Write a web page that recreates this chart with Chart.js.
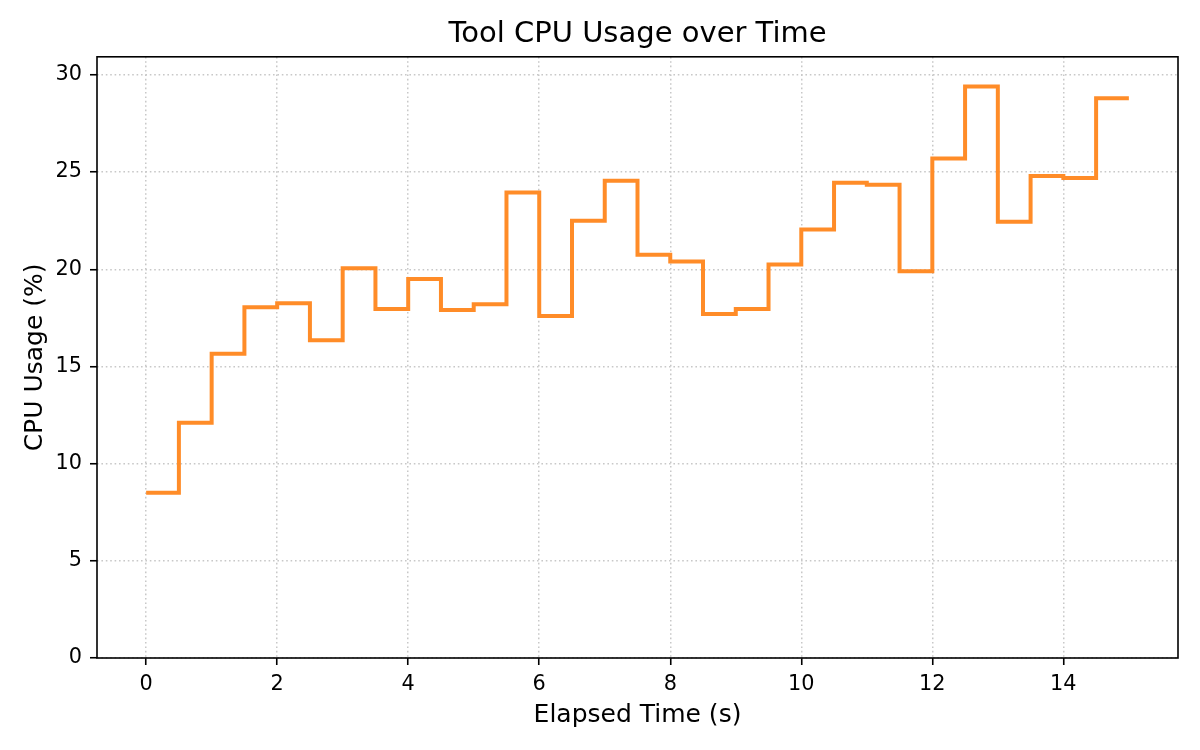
<!DOCTYPE html>
<html>
<head>
<meta charset="utf-8">
<script src="https://cdn.jsdelivr.net/npm/chart.js@4/dist/chart.umd.min.js"></script>
<style>
  html, body { margin: 0; padding: 0; background: #fff; }
  #wrap { width: 1200px; height: 750px; }
</style>
</head>
<body>
<div id="wrap"><canvas id="cpuChart" width="1200" height="750"></canvas></div>
<script>
// data
const times = [0, 0.5, 1, 1.5, 2, 2.5, 3, 3.5, 4, 4.5, 5, 5.5, 6, 6.5, 7, 7.5,
               8, 8.5, 9, 9.5, 10, 10.5, 11, 11.5, 12, 12.5, 13, 13.5, 14, 14.5, 15];
const cpuUsage = [8.5, 12.1, 15.65, 18.05, 18.25, 16.35, 20.05, 17.95, 19.5, 17.9, 18.2, 23.95,
                  17.6, 22.5, 24.55, 20.75, 20.4, 17.7, 17.95, 20.25, 22.05, 24.45, 24.35, 19.9,
                  25.7, 29.4, 22.45, 24.8, 24.7, 28.8, 28.8];
const xTicks = [0, 2, 4, 6, 8, 10, 12, 14];
const yTicks = [0, 5, 10, 15, 20, 25, 30];

const FONT = "'DejaVu Sans', sans-serif";

// matplotlib style frame on all four sides
const frame = {
    id: 'frame',
    afterDraw(chart) {
        const a = chart.chartArea;
        const c = chart.ctx;
        c.save();
        c.strokeStyle = '#000';
        c.lineWidth = 1.6;
        c.strokeRect(a.left, a.top, a.right - a.left, a.bottom - a.top);
        c.restore();
    }
};

const gridOpts = {
    color: '#c8c8c8',
    lineWidth: 1.5,
    drawTicks: true,
    tickLength: 7,
    tickColor: '#000',
    tickBorderDash: [],
    tickWidth: 1.6
};

const ctx = document.getElementById('cpuChart').getContext('2d');
const cpuChart = new Chart(ctx, {
    type: 'line',
    data: {
        datasets: [{
            label: 'CPU Usage',
            data: times.map((t, i) => ({ x: t, y: cpuUsage[i] })),
            borderColor: '#ff8c28',
            borderWidth: 4,
            stepped: 'before',
            pointRadius: 0,
            fill: false
        }]
    },
    options: {
        responsive: false,
        animation: false,
        devicePixelRatio: 1,
        layout: { padding: { left: 0, right: 22, top: 0, bottom: 0 } },
        plugins: {
            legend: { display: false },
            tooltip: { enabled: false },
            title: {
                display: true,
                fullSize: false,
                text: 'Tool CPU Usage over Time',
                color: '#000',
                font: { family: FONT, size: 29, weight: 'normal' },
                padding: { top: 17, bottom: 5 }
            }
        },
        scales: {
            x: {
                type: 'linear',
                min: -0.75,
                max: 15.75,
                afterBuildTicks: s => { s.ticks = xTicks.map(v => ({ value: v })); },
                afterFit: s => { s.height = 92; },
                grid: gridOpts,
                border: { display: false, dash: [1.6, 2.8] },
                ticks: {
                    color: '#000',
                    padding: 7,
                    maxRotation: 0,
                    font: { family: FONT, size: 20.8 }
                },
                title: {
                    display: true,
                    text: 'Elapsed Time (s)',
                    color: '#000',
                    font: { family: FONT, size: 25 },
                    padding: 20
                }
            },
            y: {
                min: 0,
                max: 30.93,
                afterBuildTicks: s => { s.ticks = yTicks.map(v => ({ value: v })); },
                afterFit: s => { s.width = 97; },
                grid: gridOpts,
                border: { display: false, dash: [1.6, 2.8] },
                ticks: {
                    color: '#000',
                    padding: 8,
                    font: { family: FONT, size: 20.8 }
                },
                title: {
                    display: true,
                    text: 'CPU Usage (%)',
                    color: '#000',
                    font: { family: FONT, size: 25 },
                    padding: 20
                }
            }
        }
    },
    plugins: [frame]
});
</script>
</body>
</html>
